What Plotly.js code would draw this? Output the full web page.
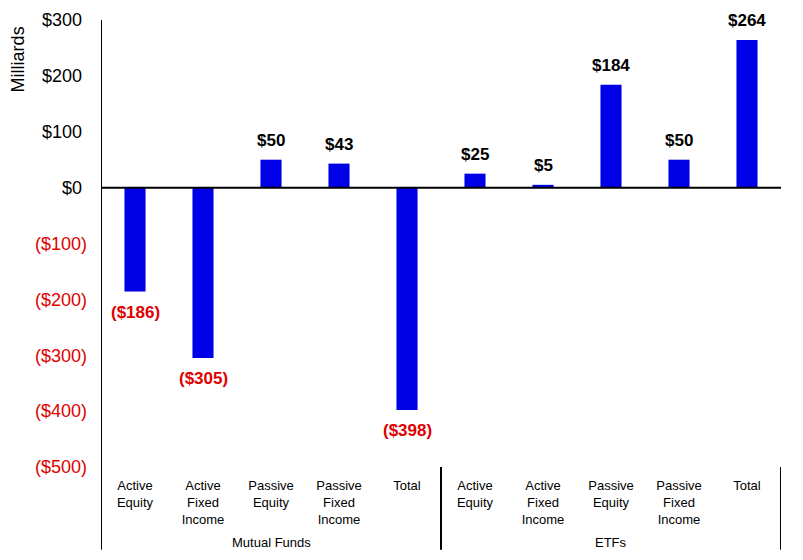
<!doctype html>
<html>
<head>
    <meta charset="utf-8">
    <title>Flows</title>
    <script src="https://cdn.plot.ly/plotly-3.0.1.min.js"></script>
    <style>
        body {margin: 0; background: #fff;}
    </style>
</head>
<body>
<div id="chart" style="width:803px;height:560px;"></div>
<script>
// ====== DATA ==================================================
let categories = ['Active<br>Equity', 'Active<br>Fixed<br>Income', 'Passive<br>Equity', 'Passive<br>Fixed<br>Income', 'Total',
                  'Active<br>Equity', 'Active<br>Fixed<br>Income', 'Passive<br>Equity', 'Passive<br>Fixed<br>Income', 'Total'];
let flows = [-186, -305, 50, 43, -398, 25, 5, 184, 50, 264];
let groups = ['Mutual Funds', 'ETFs'];
let yTicks = [300, 200, 100, 0, -100, -200, -300, -400, -500];

// ====== HELPERS ==================================================
let fontName = 'Liberation Sans, Arial, sans-serif';
let red = '#e00000';

function money(v) {
    return v < 0 ? '($' + Math.abs(v) + ')' : '$' + v;
}
let positions = categories.map((c, i) => i);

let bars = {
    x: positions,
    y: flows,
    type: 'bar',
    width: 0.31,
    marker: {color: '#0000e6'},
    hoverinfo: 'skip'
};

// accounting style: positives keep room for the closing bracket
let tickText = yTicks.map(v => v < 0 ? '<span style="color:' + red + '">' + money(v) + '</span>' : money(v) + '&nbsp;');

// value labels above / below each bar
let annotations = flows.map((v, i) => ({
    xref: 'x', yref: 'y',
    x: positions[i], y: v,
    text: '<b>' + money(v) + '</b>',
    showarrow: false,
    yanchor: v < 0 ? 'top' : 'bottom',
    yshift: v < 0 ? -9 : 8,
    font: {family: fontName, size: 17, color: v < 0 ? red : '#000'}
}));

// group labels
groups.forEach((g, k) => annotations.push({
    xref: 'x', yref: 'paper',
    x: k * 5 + 2, y: -0.168,
    text: g, showarrow: false,
    yanchor: 'middle',
    font: {family: fontName, size: 13, color: '#000'}
}));

annotations.push({
    xref: 'paper', yref: 'paper',
    x: -0.122, y: 0.912,
    xanchor: 'center', yanchor: 'middle',
    text: 'Milliards', showarrow: false, textangle: -90,
    font: {family: fontName, size: 18, color: '#000'}
});

let shapes = [];
[-0.5, 4.5, 9.5].forEach((xv, k) => {
    shapes.push({
        type: 'line', xref: 'x', yref: 'paper',
        x0: xv, x1: xv, y0: k === 0 ? 1 : 0, y1: -0.185,
        line: {color: '#000', width: 2}
    });
});
shapes.push({
    type: 'line', xref: 'paper', yref: 'y',
    x0: 0, x1: 1, y0: 0, y1: 0,
    line: {color: '#000', width: 2}
});

let layout = {
    width: 803,
    height: 560,
    margin: {l: 101, r: 22, t: 20, b: 93},
    paper_bgcolor: '#fff',
    plot_bgcolor: '#fff',
    showlegend: false,
    font: {family: fontName, color: '#000'},
    xaxis: {
        range: [-0.5, 9.5],
        tickmode: 'array',
        tickvals: positions,
        ticktext: categories,
        ticks: '',
        showgrid: false,
        zeroline: false,
        showline: false,
        tickfont: {size: 13, color: '#000'},
        ticklabelstandoff: 9,
        fixedrange: true
    },
    yaxis: {
        range: [-500, 300],
        tickmode: 'array',
        tickvals: yTicks,
        ticktext: tickText,
        ticks: '',
        showgrid: false,
        zeroline: false,
        showline: false,
        tickfont: {size: 18, color: '#000'},
        ticklabelstandoff: 13,
        fixedrange: true
    },
    shapes: shapes,
    annotations: annotations
};

Plotly.newPlot('chart', [bars], layout, {displayModeBar: false, staticPlot: true});
</script>
</body>
</html>
